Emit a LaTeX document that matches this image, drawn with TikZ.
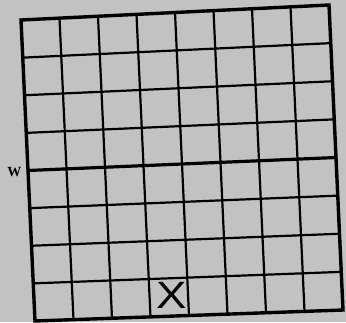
\documentclass[tikz,border=0pt]{standalone}
\usepackage{fontspec}
\newfontfamily\markfont{Liberation Sans}
\newfontfamily\sidefont{Liberation Serif}
\usetikzlibrary{calc}
\tikzset{
  gridline/.style={draw=black,line width=2.2pt},
  midline/.style={draw=black,line width=3.2pt},
  frameline/.style={draw=black,line width=3.4pt,line join=miter},
  paper/.style={fill=black!24}
}
\begin{document}
\begin{tikzpicture}[x=1pt,y=-1pt]
\fill[paper] (0,0) rectangle (346,322);
\useasboundingbox (0,0) rectangle (346,322);
\coordinate (tl) at (21,20);
\coordinate (tr) at (329,5);
\coordinate (bl) at (35,321);
\coordinate (br) at (343,310);
\foreach \i in {1,...,7}{
  \draw[gridline] ($(tl)!\i/8!(tr)$) -- ($(bl)!\i/8!(br)$);
}
\foreach \j in {1,2,3,5,6,7}{
  \draw[gridline] ($(tl)!\j/8!(bl)$) -- ($(tr)!\j/8!(br)$);
}
\draw[midline] ($(tl)!0.5!(bl)$) -- ($(tr)!0.5!(br)$);
\draw[frameline] (tl) -- (tr) -- (br) -- (bl) -- cycle;
\node[inner sep=0pt] (w) at (14.5,172) {\sidefont\bfseries\fontsize{14}{14}\selectfont W};
\node[inner sep=0pt,xscale=1.2] (x) at (172,295) {\markfont\fontsize{38}{38}\selectfont X};
\end{tikzpicture}
\end{document}
